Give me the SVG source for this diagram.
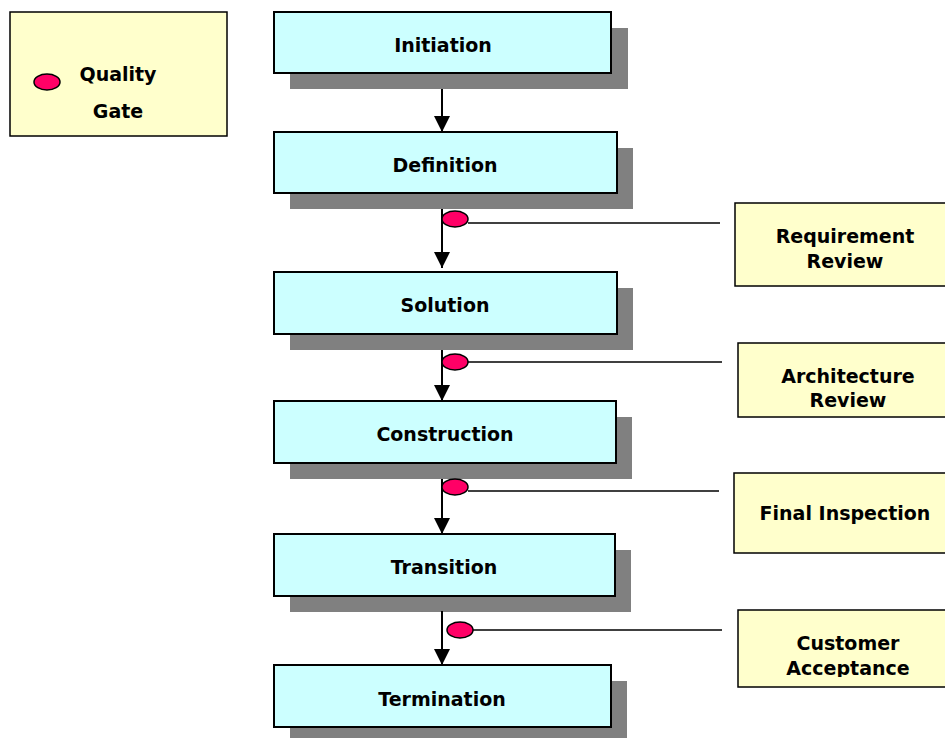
<svg xmlns="http://www.w3.org/2000/svg" width="945" height="738" viewBox="0 0 945 738">
  <style>
    .phase { fill: #CCFFFF; stroke: #000; stroke-width: 2; }
    .shadow { fill: #808080; }
    .note { fill: #FFFFCC; stroke: #000; stroke-width: 1.5; }
    .gate { fill: #FF0066; stroke: #000; stroke-width: 1.5; }
    .flow { stroke: #000; stroke-width: 2; fill: none; }
    .tie { stroke: #000; stroke-width: 1.5; fill: none; }
    text { font-family: "DejaVu Sans", Verdana, sans-serif; font-weight: bold; font-size: 19px; fill: #000; text-anchor: middle; }
  </style>
  <defs>
    <marker id="head" markerWidth="16" markerHeight="16" viewBox="0 0 16 16" refX="16" refY="8" orient="auto" markerUnits="userSpaceOnUse">
      <path d="M0,0 L16,8 L0,16 Z" fill="#000"/>
    </marker>
    <clipPath id="clipAccept">
      <rect x="738" y="600" width="220" height="77"/>
    </clipPath>
  </defs>

  <!-- legend -->
  <g id="legend">
    <rect class="note" x="10" y="12" width="217" height="124"/>
    <ellipse class="gate" cx="47" cy="82" rx="13" ry="8"/>
    <text x="118" y="81">Quality</text>
    <text x="118" y="118">Gate</text>
  </g>

  <!-- phase boxes -->
  <g id="initiation">
    <rect class="shadow" x="290" y="28" width="338" height="61"/>
    <rect class="phase" x="274" y="12" width="337" height="61"/>
    <text x="443" y="52">Initiation</text>
  </g>
  <g id="definition">
    <rect class="shadow" x="290" y="148" width="343" height="61"/>
    <rect class="phase" x="274" y="132" width="343" height="61"/>
    <text x="445" y="172">Definition</text>
  </g>
  <g id="solution">
    <rect class="shadow" x="290" y="288" width="343" height="62"/>
    <rect class="phase" x="274" y="272" width="343" height="62"/>
    <text x="445" y="312">Solution</text>
  </g>
  <g id="construction">
    <rect class="shadow" x="290" y="417" width="342" height="62"/>
    <rect class="phase" x="274" y="401" width="342" height="62"/>
    <text x="445" y="441">Construction</text>
  </g>
  <g id="transition">
    <rect class="shadow" x="290" y="550" width="341" height="62"/>
    <rect class="phase" x="274" y="534" width="341" height="62"/>
    <text x="444" y="574">Transition</text>
  </g>
  <g id="termination">
    <rect class="shadow" x="290" y="681" width="337" height="62"/>
    <rect class="phase" x="274" y="665" width="337" height="62"/>
    <text x="442" y="706">Termination</text>
  </g>

  <!-- review notes -->
  <g id="requirement-review">
    <rect class="note" x="735" y="203" width="220" height="83"/>
    <text x="845" y="243">Requirement</text>
    <text x="845" y="268">Review</text>
  </g>
  <g id="architecture-review">
    <rect class="note" x="738" y="343" width="220" height="74"/>
    <text x="848" y="383">Architecture</text>
    <text x="848" y="407">Review</text>
  </g>
  <g id="final-inspection">
    <rect class="note" x="734" y="473" width="221" height="80"/>
    <text x="845" y="520">Final Inspection</text>
  </g>
  <g id="customer-acceptance">
    <rect class="note" x="738" y="610" width="220" height="77"/>
    <text x="848" y="650">Customer</text>
    <text x="848" y="675" clip-path="url(#clipAccept)">Acceptance</text>
  </g>

  <!-- connectors and quality gates -->
  <g id="connectors">
    <line class="flow" x1="442" y1="89" x2="442" y2="132" marker-end="url(#head)"/>
    <line class="flow" x1="442" y1="209" x2="442" y2="268" marker-end="url(#head)"/>
    <line class="flow" x1="442" y1="350" x2="442" y2="401" marker-end="url(#head)"/>
    <line class="flow" x1="442" y1="479" x2="442" y2="534" marker-end="url(#head)"/>
    <line class="flow" x1="442" y1="611" x2="442" y2="665" marker-end="url(#head)"/>

    <line class="tie" x1="468" y1="223" x2="720" y2="223"/>
    <ellipse class="gate" cx="455" cy="219" rx="13" ry="8"/>

    <line class="tie" x1="468" y1="362" x2="722" y2="362"/>
    <ellipse class="gate" cx="455" cy="362" rx="13" ry="8"/>

    <line class="tie" x1="468" y1="491" x2="719" y2="491"/>
    <ellipse class="gate" cx="455" cy="487" rx="13" ry="8"/>

    <line class="tie" x1="473" y1="630" x2="722" y2="630"/>
    <ellipse class="gate" cx="460" cy="630" rx="13" ry="8"/>
  </g>
</svg>
